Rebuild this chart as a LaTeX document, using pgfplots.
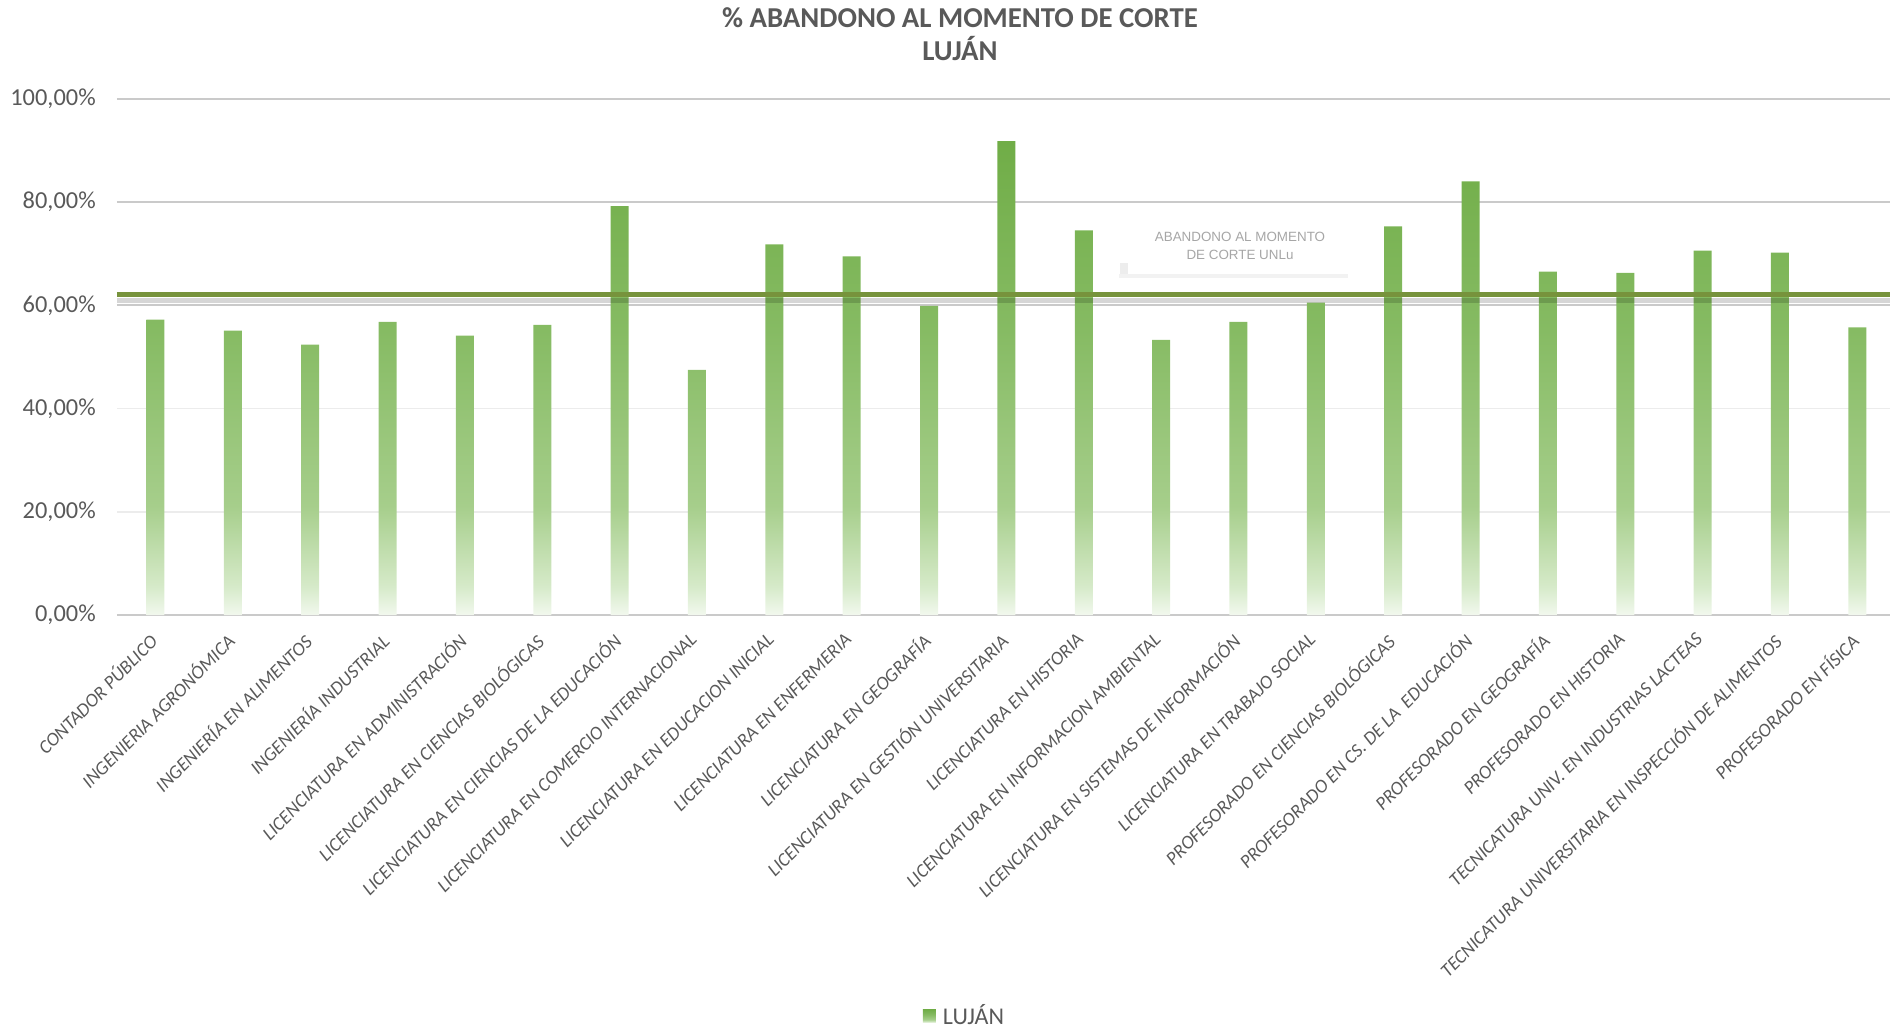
\documentclass[border=0pt]{standalone}
\usepackage{pgfplots}
\pgfplotsset{compat=1.18}
\usepackage{fontspec}
\setmainfont{Carlito}
\newfontfamily\arialf{Liberation Sans}
\definecolor{barg}{HTML}{70AD47}
\definecolor{fadeA}{HTML}{F2F8EE}
\definecolor{fadeB}{HTML}{D6EAC9}
\definecolor{fadeC}{HTML}{A6CE8B}
\definecolor{fadeD}{HTML}{86BB63}
\definecolor{avgc}{HTML}{77933C}
\definecolor{tc}{HTML}{595959}
\definecolor{annc}{HTML}{A6A6A6}
\definecolor{gridd}{HTML}{CACACA}
\definecolor{gridl}{HTML}{ECECEC}
\pgfdeclareverticalshading{barfade}{100bp}{color(0bp)=(fadeA); color(25bp)=(fadeA); color(28bp)=(fadeB); color(36.5bp)=(fadeC); color(55bp)=(fadeD); color(75bp)=(barg); color(100bp)=(barg)}
\begin{document}
\begin{tikzpicture}
\useasboundingbox (0,0) rectangle (945pt,514.5pt);
\begin{axis}[
  at={(58.4pt,207pt)}, anchor=south west,
  scale only axis, width=889.6pt, height=258.1pt,
  xmin=-0.5, xmax=22.5, ymin=0, ymax=100,
  axis line style={draw=none},
  major tick length=0pt,
  xtick={0,...,22},
  xticklabels={CONTADOR PÚBLICO, INGENIERIA AGRONÓMICA, INGENIERÍA EN ALIMENTOS, INGENIERÍA INDUSTRIAL, LICENCIATURA EN ADMINISTRACIÓN, LICENCIATURA EN CIENCIAS BIOLÓGICAS, LICENCIATURA EN CIENCIAS DE LA EDUCACIÓN, LICENCIATURA EN COMERCIO INTERNACIONAL, LICENCIATURA EN EDUCACION INICIAL, LICENCIATURA EN ENFERMERIA, LICENCIATURA EN GEOGRAFÍA, LICENCIATURA EN GESTIÓN UNIVERSITARIA, LICENCIATURA EN HISTORIA, LICENCIATURA EN INFORMACION AMBIENTAL, LICENCIATURA EN SISTEMAS DE INFORMACIÓN, LICENCIATURA EN TRABAJO SOCIAL, PROFESORADO EN CIENCIAS BIOLÓGICAS, PROFESORADO EN CS. DE LA \ EDUCACIÓN, PROFESORADO EN GEOGRAFÍA, PROFESORADO EN HISTORIA, TECNICATURA UNIV. EN INDUSTRIAS LACTEAS, TECNICATURA UNIVERSITARIA EN INSPECCIÓN DE ALIMENTOS, PROFESORADO EN FÍSICA},
  xticklabel style={xshift=-4pt, yshift=-8.2pt, rotate=45, anchor=north east, inner sep=0pt, font=\itshape\fontsize{9.5}{11}\selectfont, text=tc},
  ytick={20,40},
  yticklabels={{20,00\%},{40,00\%}},
  extra y ticks={0,60,80,100},
  extra y tick labels={{0,00\%},{60,00\%},{80,00\%},{100,00\%}},
  extra y tick style={grid style={draw=gridd, line width=0.9pt}},
  ymajorgrids,
  grid style={draw=gridl, line width=0.8pt},
  yticklabel style={font=\fontsize{12.2}{14}\selectfont, text=tc, anchor=east, xshift=-7pt},
  legend style={at={(axis description cs:0.477,-0.777)}, anchor=center, draw=none, fill=none, font=\fontsize{12}{14}\selectfont, text=tc},
]
\addplot[ybar, bar width=9pt, draw=none, shading=barfade,
  legend image code/.code={\fill[shading=barfade] (0pt,-3.25pt) rectangle (6.5pt,3.25pt);}]
  coordinates {(0,57.2) (1,55.1) (2,52.4) (3,56.8) (4,54.1) (5,56.2) (6,79.2) (7,47.5) (8,71.8) (9,69.45) (10,59.9) (11,91.8) (12,74.5) (13,53.3) (14,56.8) (15,60.5) (16,75.3) (17,84.0) (18,66.5) (19,66.3) (20,70.6) (21,70.2) (22,55.7)};
\addlegendentry{\hspace{1.5pt}LUJÁN}
\addplot[draw=black, opacity=0.16, line width=2.4pt, forget plot] coordinates {(-0.5,61.0) (22.5,61.0)};
\addplot[draw=avgc, line width=2.7pt, forget plot] coordinates {(-0.5,62.14) (22.5,62.14)};
\end{axis}
\node[font=\bfseries\fontsize{14.4}{16.3}\selectfont, text=tc, align=center] at (480pt,497.35pt) {\% ABANDONO AL MOMENTO DE CORTE\\LUJÁN};
\fill[black!5] (559.5pt,375.5pt) rectangle (674pt,377.5pt);
\fill[black!7] (560pt,377.5pt) rectangle (564pt,383pt);
\node[font=\arialf\fontsize{6.7}{9}\selectfont, text=annc, align=center] at (620pt,391.4pt) {ABANDONO AL MOMENTO\\DE CORTE UNLu};
\end{tikzpicture}
\end{document}
